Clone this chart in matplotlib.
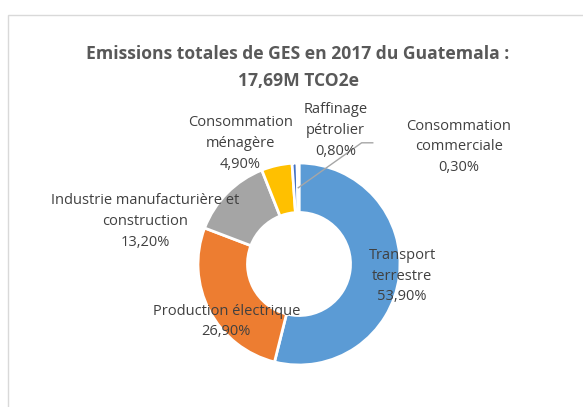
import matplotlib
matplotlib.use("Agg")
import matplotlib.pyplot as plt
from matplotlib.patches import Rectangle
import numpy as np

plt.rcParams['font.family'] = ['Open Sans', 'DejaVu Sans']

categories = ["Transport\nterrestre", "Production électrique", "Industrie manufacturière et\nconstruction",
              "Consommation\nménagère", "Raffinage\npétrolier", "Consommation\ncommerciale"]
values = [53.9, 26.9, 13.2, 4.9, 0.8, 0.3]
value_labels = ["53,90%", "26,90%", "13,20%", "4,90%", "0,80%", "0,30%"]
colors = ["#5B9BD5", "#ED7D31", "#A5A5A5", "#FFC000", "#4472C4", "#70AD47"]
label_pos = [(1.02, -0.12), (-0.72, -0.57), (-1.52, 0.42), (-0.58, 1.19), (0.36, 1.32), (1.58, 1.16)]

W, H = 583, 407
fig = plt.figure(figsize=(W / 100, H / 100), dpi=100)
fig.patch.set_facecolor("white")

# chart border
fig.add_artist(Rectangle((8 / W, -0.05), 1.0, (H - 15) / H + 0.05, transform=fig.transFigure,
                         fill=False, edgecolor="#D9D9D9", linewidth=1.0))

cx, cy, R = 299, H - 264, 101
ax = fig.add_axes([(cx - R) / W, (cy - R) / H, 2 * R / W, 2 * R / H])
wedges, _ = ax.pie(values, colors=colors, startangle=90, counterclock=False, radius=1.0,
                   wedgeprops=dict(width=0.49, edgecolor="white", linewidth=2))
ax.set_xlim(-1, 1)
ax.set_ylim(-1, 1)
ax.set_aspect("equal")
ax.axis("off")

for cat, vl, (x, y) in zip(categories, value_labels, label_pos):
    ax.text(x, y, cat + "\n" + vl, ha="center", va="center", fontsize=10.5, color="#404040",
            linespacing=1.53, clip_on=False)

# leader line for the small commercial slice
w = wedges[5]
mid = np.deg2rad((w.theta1 + w.theta2) / 2)
r_mid = 1 - 0.49 / 2
ax.plot([r_mid * np.cos(mid), 0.62, 0.73], [r_mid * np.sin(mid), 1.20, 1.20],
        color="#A6A6A6", linewidth=1.0, clip_on=False)

fig.text(298 / W, 1 - 67.5 / H, "Emissions totales de GES en 2017 du Guatemala :\n17,69M TCO2e",
         ha="center", va="center", fontsize=12.6, fontweight="bold", color="#595959", linespacing=1.7)

fig.savefig("out.png", dpi=100)
